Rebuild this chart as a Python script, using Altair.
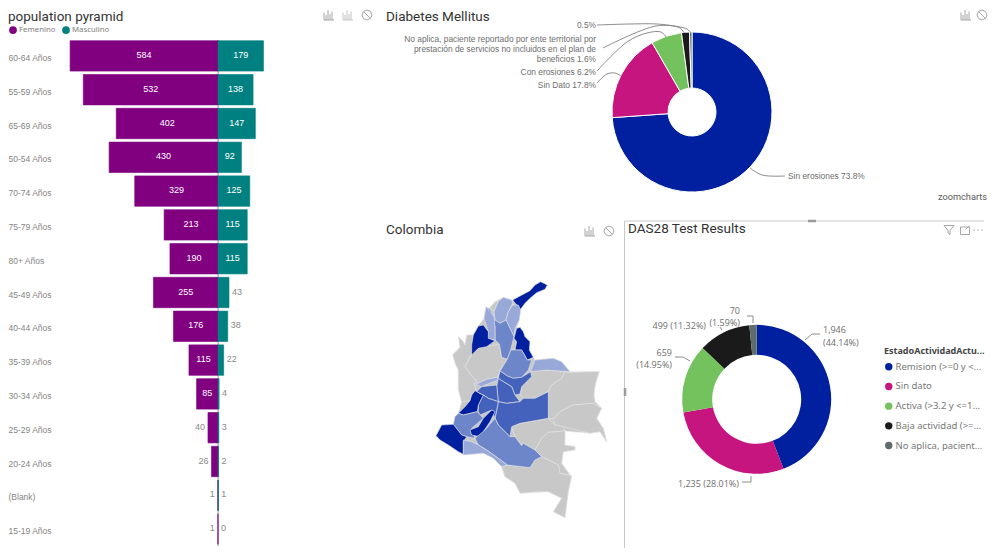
import altair as alt
import pandas as pd

# ---------- data ----------
age_rows = ["60-64 Años", "55-59 Años", "65-69 Años", "50-54 Años", "70-74 Años", "75-79 Años", "80+ Años",
            "45-49 Años", "40-44 Años", "35-39 Años", "30-34 Años", "25-29 Años", "20-24 Años", "(Blank)", "15-19 Años"]
femenino = [584, 532, 402, 430, 329, 213, 190, 255, 176, 115, 85, 40, 26, 1, 1]
masculino = [179, 138, 147, 92, 125, 115, 115, 43, 38, 22, 4, 3, 2, 1, 0]

diabetes_labels = ["Sin erosiones", "Sin Dato", "Con erosiones", "No aplica", "Otro"]
diabetes_values = [73.8, 17.8, 6.2, 1.6, 0.5]

das_labels = ["Remision (>=0 y <...", "Sin dato", "Activa (>3.2 y <=1...", "Baja actividad (>=...", "No aplica, pacient..."]
das_values = [1946, 1235, 659, 499, 70]

slice_colors = ["#00209F", "#C7157F", "#74C25E", "#1A1A1A", "#5F6B6D"]
gray_text = "#6E6E6E"

map_levels = ["dark", "strong", "mid", "light", "none"]
map_colors = ["#00209F", "#4462BC", "#6D85C9", "#97A8D9", "#C8C8C8"]
departments = [
    ("none", [(362,35),(382,45),(375,58),(350,68),(330,85),(315,100),(300,120),(298,150),(290,175),(300,172),(315,200),(330,215),(328,240),(340,262),(345,270),(400,265),(425,275),(450,305),(538,305),(525,350),(522,375),(525,395),(545,415),(530,445),(550,475),(560,515),(540,485),(510,490),(435,483),(435,525),(465,530),(465,540),(430,545),(425,580),(450,615),(455,617),(445,665),(435,743),(400,725),(425,685),(385,665),(300,670),(285,640),(255,620),(245,590),(220,565),(190,550),(130,555),(115,545),(85,525),(48,497),(65,465),(100,463),(105,440),(115,430),(125,395),(115,360),(115,300),(98,255),(120,232),(115,200),(130,215),(135,225),(140,195),(160,195),(175,168),(192,145),(198,110),(208,115),(225,95),(250,82),(278,90),(300,78),(330,62),(345,45)]),
    ("none", [(115,200),(130,215),(135,225),(140,195),(160,195),(155,250),(135,290),(150,310),(175,340),(162,340),(170,365),(155,375),(150,392),(125,395),(115,360),(115,300),(105,280),(98,255),(120,232)]),
    ("none", [(155,255),(175,235),(200,230),(238,222),(245,262),(262,268),(240,300),(232,322),(200,328),(175,340),(150,310),(135,290)]),
    ("none", [(208,115),(225,95),(235,95),(225,125)]),
    ("none", [(300,372),(305,350),(335,320),(332,305),(380,300),(435,305),(425,325),(395,345),(385,365),(345,385),(310,385)]),
    ("none", [(435,305),(450,308),(500,305),(538,305),(530,325),(525,350),(522,375),(525,395),(545,415),(520,400),(460,405),(420,425),(400,445),(385,445),(385,365),(395,345),(425,325)]),
    ("none", [(400,450),(420,425),(460,405),(520,400),(545,415),(530,445),(550,475),(560,515),(540,485),(510,490),(430,470),(405,465)]),
    ("none", [(275,470),(300,460),(385,445),(405,465),(430,470),(435,483),(385,487),(365,505),(345,540),(310,520),(305,527),(285,500)]),
    ("none", [(345,540),(365,505),(385,487),(435,483),(435,525),(465,530),(465,540),(430,545),(425,580),(450,615),(420,610),(415,585),(395,575),(365,560)]),
    ("none", [(245,590),(262,585),(330,593),(345,570),(365,560),(395,575),(415,585),(420,610),(455,617),(445,665),(435,743),(400,725),(425,685),(385,665),(350,665),(300,670),(285,640),(255,620)]),
    ("dark", [(278,90),(300,78),(330,62),(345,45),(362,35),(382,45),(375,58),(350,68),(330,85),(315,100),(300,120),(290,105)]),
    ("light", [(222,125),(235,95),(250,82),(275,90),(278,100),(265,125),(258,150),(240,160),(225,150)]),
    ("light", [(265,125),(278,105),(295,105),(302,120),(298,150),(285,175),(282,200),(270,175),(258,150)]),
    ("mid", [(198,110),(210,118),(222,140),(225,150),(240,160),(258,150),(270,175),(282,200),(272,240),(262,268),(245,262),(238,222),(225,210),(225,170)]),
    ("light", [(192,145),(198,110),(222,140),(225,170),(225,210),(205,205),(205,185)]),
    ("dark", [(160,195),(175,168),(190,165),(205,185),(205,205),(225,212),(200,230),(175,235),(155,255),(155,225)]),
    ("dark", [(290,175),(300,172),(310,185),(315,200),(330,215),(328,240),(340,262),(322,270),(305,240),(285,240),(290,215),(282,205)]),
    ("mid", [(272,240),(285,240),(305,240),(322,270),(335,270),(325,300),(305,322),(280,325),(262,318),(240,303),(262,268)]),
    ("light", [(332,305),(345,270),(400,265),(425,275),(450,305),(380,300)]),
    ("strong", [(240,303),(262,318),(280,325),(305,322),(332,305),(335,320),(305,350),(300,372),(285,375),(275,350),(250,335),(235,325)]),
    ("light", [(162,340),(175,340),(200,328),(232,322),(235,330),(195,345),(185,350)]),
    ("strong", [(235,325),(250,335),(275,350),(285,375),(300,395),(260,400),(235,395),(230,350)]),
    ("strong", [(225,445),(235,395),(260,400),(300,395),(310,385),(345,385),(385,365),(385,445),(300,460),(275,470),(270,500),(235,465)]),
    ("strong", [(185,350),(230,345),(235,395),(205,385),(190,375),(170,365)]),
    ("strong", [(175,425),(175,405),(190,375),(205,385),(235,395),(225,445),(215,420),(180,435)]),
    ("dark", [(115,430),(135,410),(150,392),(155,375),(165,362),(182,372),(190,375),(175,405),(172,425),(130,435)]),
    ("mid", [(100,463),(105,440),(115,430),(130,435),(172,425),(190,445),(155,475),(165,505),(140,500),(125,495)]),
    ("dark", [(150,480),(175,470),(190,445),(215,420),(225,425),(210,455),(180,500),(155,495)]),
    ("dark", [(48,497),(65,465),(100,463),(125,495),(140,500),(130,515),(130,553),(115,545),(85,525),(60,510)]),
    ("mid", [(165,505),(195,480),(225,445),(235,465),(270,500),(285,500),(305,527),(310,520),(345,540),(365,560),(345,570),(330,593),(262,585),(235,565),(200,540),(175,525)]),
    ("light", [(130,510),(155,515),(175,525),(200,540),(235,565),(262,585),(245,590),(220,565),(190,550),(130,555)]),
]

# ---------- annotation helpers (page coordinates minus the panel origin) ----------
TITLE_FONT = "Roboto"
BAN = "M-1,0L-.7,-.7L0,-1L.7,-.7L1,0L.7,.7L0,1L-.7,.7ZM-.7,-.7L.7,.7"
BARS = "M-1,1V-.5M-.6,1V0M-.2,1V-1M.2,1V-.2M.6,1V-.7M-1,1H1"
FUNNEL = "M-1,-.9H1L.2,.1V.9L-.2,.6V.1Z"
FOCUS = "M-.9,-.6H.9V.9H-.9ZM.1,-.1L.9,-.9"
DOTS = "M-.9,0h.2M-.1,0h.2M.7,0h.2"


def txt(s, x, y, org, size=8.4, color=gray_text, align="left", font="Liberation Sans", weight="normal"):
    return alt.Chart().mark_text(text=s, align=align, baseline="middle", fontSize=size, color=color,
                                 font=font, fontWeight=weight).encode(
        x=alt.value(x - org[0]), y=alt.value(y - org[1]))


def title(s, x, y, org):
    return txt(s, x, y, org, size=13.5, color="#333333", font=TITLE_FONT)


def icon(path, x, y, org, size=100, color="#A6A6A6"):
    return alt.Chart().mark_point(shape=path, size=size, color=color, strokeWidth=1, opacity=1).encode(
        x=alt.value(x - org[0]), y=alt.value(y - org[1]))


def leader(pts, org, color="#7F7F7F", curve="catmull-rom"):
    df = pd.DataFrame({"x": [p[0] - org[0] for p in pts], "y": [p[1] - org[1] for p in pts], "i": range(len(pts))})
    return alt.Chart(df).mark_line(color=color, strokeWidth=0.9, interpolate=curve).encode(
        x=alt.X("x:Q", scale=None, axis=None), y=alt.Y("y:Q", scale=None, axis=None), order="i:Q")


# ---------- population pyramid ----------
A = (8, 8)
A_W, A_H = 368, 540
rows = []
for r, f, m in zip(age_rows, femenino, masculino):
    rows.append({"row": r, "sexo": "Femenino", "v": f, "s": -f, "inside": f >= 85})
    rows.append({"row": r, "sexo": "Masculino", "v": m, "s": m, "inside": m >= 90})
pyr = pd.DataFrame(rows)
pyr["mid"] = pyr["s"] / 2

x_scale = alt.Scale(domain=[-829, 623], range=[0, A_W], nice=False, zero=False)
y_scale = alt.Scale(domain=age_rows, range=[31, 538], paddingInner=0.1, paddingOuter=0.05)
sex_scale = alt.Scale(domain=["Femenino", "Masculino"], range=["#800080", "#008080"])
base = alt.Chart(pyr)
bars = base.transform_filter("datum.v > 0").mark_bar(strokeWidth=0.6, orient="horizontal").encode(
    x=alt.X("s:Q", scale=x_scale, axis=None),
    y=alt.Y("row:N", scale=y_scale, sort=age_rows,
            axis=alt.Axis(title=None, ticks=False, domain=False, grid=False, labelAlign="left", labelPadding=0,
                          labelOffset=2, labelFontSize=8.5, labelFont="Liberation Sans", labelColor="#858585",
                          labelLimit=90)),
    color=alt.Color("sexo:N", scale=sex_scale,
                    legend=alt.Legend(orient="none", legendX=0, legendY=17, direction="horizontal", title=None,
                                      symbolType="circle", symbolSize=60, labelFontSize=7.8, labelColor="#808080",
                                      labelFont="Noto Sans", symbolOpacity=1, columnPadding=5, labelOffset=1)),
    stroke=alt.Color("sexo:N", scale=sex_scale, legend=None),
)
center = alt.Chart(pd.DataFrame({"z": [0]})).mark_rule(color="#9A9A9A", strokeWidth=1).encode(
    x=alt.X("z:Q", scale=x_scale, axis=None), y=alt.value(32), y2=alt.value(538))
txt_in = base.transform_filter("datum.inside").mark_text(color="white", fontSize=9, font="Liberation Sans", dy=-1).encode(
    x=alt.X("mid:Q", scale=x_scale, axis=None), y=alt.Y("row:N", scale=y_scale, sort=age_rows), text="v:Q")
txt_l = base.transform_filter("!datum.inside && datum.sexo == 'Femenino'").mark_text(
    color="#8A8A8A", fontSize=9, font="Liberation Sans", dy=-1, dx=-3, align="right").encode(
    x=alt.X("s:Q", scale=x_scale, axis=None), y=alt.Y("row:N", scale=y_scale, sort=age_rows), text="v:Q")
txt_r = base.transform_filter("!datum.inside && datum.sexo == 'Masculino'").mark_text(
    color="#8A8A8A", fontSize=9, font="Liberation Sans", dy=-1, dx=3, align="left").encode(
    x=alt.X("s:Q", scale=x_scale, axis=None), y=alt.Y("row:N", scale=y_scale, sort=age_rows), text="v:Q")
panel_a = alt.layer(center, bars, txt_in, txt_l, txt_r,
                    title("population pyramid", 8, 17, A),
                    icon(BARS, 329, 15, A), icon(BARS, 348, 15, A, color="#C4C4C4"), icon(BAN, 367, 15, A)
                    ).properties(width=A_W, height=A_H)

# ---------- Diabetes Mellitus ----------
B = (376, 8)
dm = pd.DataFrame({"k": diabetes_labels, "v": diabetes_values, "o": range(5)})
dm_arc = alt.Chart(dm).mark_arc(outerRadius=80, innerRadius=24, stroke="white", strokeWidth=1).encode(
    theta=alt.Theta("v:Q", stack=True, scale=alt.Scale(domain=[0, sum(diabetes_values)])),
    order=alt.Order("o:Q"),
    color=alt.Color("k:N", scale=alt.Scale(domain=diabetes_labels, range=slice_colors), legend=None),
    x=alt.value(692 - B[0]), y=alt.value(112 - B[1]))
panel_b = alt.layer(
    dm_arc,
    leader([(597, 25), (630, 24), (657, 24), (680, 27), (687, 29), (691, 33)], B),
    leader([(603, 48), (656, 26), (680, 28), (684, 33)], B),
    leader([(597, 71), (627, 42), (647, 33), (661, 32), (666, 37)], B),
    leader([(597, 83), (607, 74), (615, 73), (621, 76)], B),
    leader([(750, 168), (762, 175), (785, 176)], B),
    txt("0.5%", 596, 25, B, align="right"),
    txt("No aplica, paciente reportado por ente territorial por", 596, 39, B, align="right"),
    txt("prestación de servicios no incluidos en el plan de", 596, 49, B, align="right"),
    txt("beneficios 1.6%", 596, 59, B, align="right"),
    txt("Con erosiones 6.2%", 596, 72, B, align="right"),
    txt("Sin Dato 17.8%", 596, 85, B, align="right"),
    txt("Sin erosiones 73.8%", 788, 176, B),
    title("Diabetes Mellitus", 386, 17, B),
    icon(BARS, 966, 15, B), icon(BAN, 982, 15, B),
    txt("zoomcharts", 938, 197, B, size=9.2, color="#5A5A5A", font="Roboto"),
).properties(width=608, height=210)

# ---------- Colombia ----------
C = (376, 218)
features = [{"type": "Feature", "properties": {"level": lv},
             "geometry": {"type": "Polygon", "coordinates": [[list(p) for p in pts + pts[:1]]]}}
            for lv, pts in departments]
map_chart = alt.Chart(alt.Data(values=features)).mark_geoshape(stroke="#E8E8E8", strokeWidth=0.6).encode(
    color=alt.Color("properties.level:N", scale=alt.Scale(domain=map_levels, range=map_colors), legend=None)
).project(type="identity", scale=1 / 3, translate=[420 - C[0], 270 - C[1]])
panel_c = alt.layer(
    map_chart,
    title("Colombia", 386, 230, C),
    icon(BARS, 590, 231, C), icon(BAN, 609, 231, C),
).properties(width=248, height=330)

# ---------- DAS28 ----------
D = (624, 218)
das = pd.DataFrame({"k": das_labels, "v": das_values, "o": range(5)})
das_arc = alt.Chart(das).mark_arc(outerRadius=74.5, innerRadius=44.5).encode(
    theta=alt.Theta("v:Q", stack=True, scale=alt.Scale(domain=[0, sum(das_values)])),
    order=alt.Order("o:Q"),
    color=alt.Color("k:N", scale=alt.Scale(domain=das_labels, range=slice_colors), sort=das_labels,
                    legend=alt.Legend(orient="none", legendX=884 - D[0], legendY=347 - D[1], title="EstadoActividadActu...",
                                      titleFontSize=9, titleFont="Noto Sans", titleFontWeight="bold", titleColor="#444444",
                                      titleLimit=105, labelFontSize=9.5, labelFont="Noto Sans", labelColor="#777777",
                                      labelLimit=95, symbolType="circle", symbolSize=55, symbolOpacity=1,
                                      rowPadding=8.7, titlePadding=6, labelOffset=2)),
    x=alt.value(756.7 - D[0]), y=alt.value(399.3 - D[1]))
panel_d = alt.layer(
    alt.Chart().mark_rule(color="#C8C8C8", strokeWidth=1).encode(x=alt.value(0.5), x2=alt.value(360), y=alt.value(3)),
    alt.Chart().mark_rule(color="#C8C8C8", strokeWidth=1).encode(x=alt.value(0.5), y=alt.value(3), y2=alt.value(330)),
    alt.Chart().mark_rule(color="#9A9A9A", strokeWidth=2.5).encode(x=alt.value(184), x2=alt.value(192), y=alt.value(3)),
    alt.Chart().mark_rule(color="#9A9A9A", strokeWidth=2.5).encode(x=alt.value(1), y=alt.value(170), y2=alt.value(178)),
    das_arc,
    leader([(805, 340), (812, 334), (820, 334)], D, curve="linear"),
    leader([(742, 482), (751, 482), (751, 476)], D, curve="linear"),
    leader([(675, 357), (683, 357), (690, 361)], D, curve="linear"),
    leader([(720, 327), (722, 330)], D, curve="linear"),
    leader([(747, 316), (753, 316), (753, 323)], D, curve="linear"),
    txt("1,946", 823, 330, D, size=9, font="Open Sans"),
    txt("(44.14%)", 823, 343, D, size=9, font="Open Sans"),
    txt("1,235 (28.01%)", 678, 484, D, size=9, font="Open Sans"),
    txt("659", 672, 353, D, size=9, font="Open Sans", align="right"),
    txt("(14.95%)", 672, 365, D, size=9, font="Open Sans", align="right"),
    txt("499 (11.32%)", 706, 326, D, size=9, font="Open Sans", align="right"),
    txt("70", 740, 311, D, size=9, font="Open Sans", align="right"),
    txt("(1.59%)", 740, 323, D, size=9, font="Open Sans", align="right"),
    title("DAS28 Test Results", 628, 229, D),
    icon(FUNNEL, 949, 230, D), icon(FOCUS, 965, 230, D), icon(DOTS, 978, 230, D, color="#777777"),
).properties(width=360, height=330)

bottom = alt.hconcat(panel_c, panel_d, spacing=0, bounds="flush").resolve_scale(color="independent")
right = alt.vconcat(panel_b, bottom, spacing=0, bounds="flush").resolve_scale(color="independent")
chart = alt.hconcat(panel_a, right, spacing=0, bounds="flush").resolve_scale(color="independent").properties(
    padding=0, background="white"
).configure_view(stroke=None).configure_axis(labelFontWeight="normal")

chart.save("out.html", embed_options={"renderer": "svg", "actions": False})
